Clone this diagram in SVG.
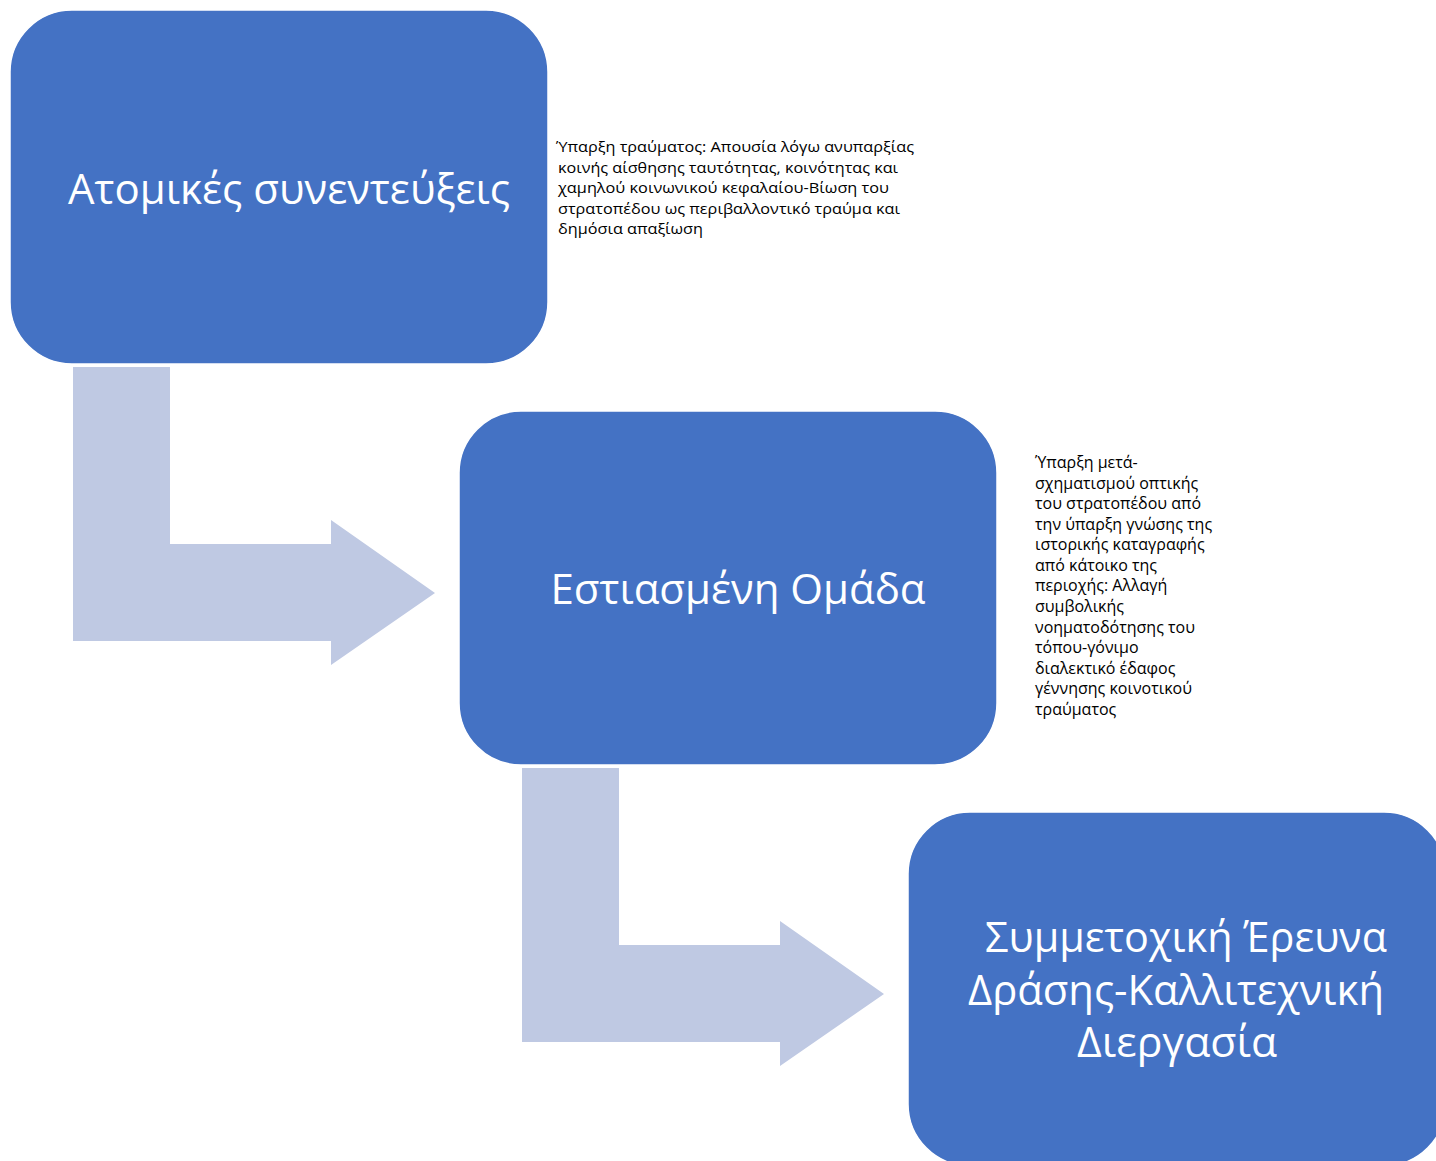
<svg xmlns="http://www.w3.org/2000/svg" width="1436" height="1161" viewBox="0 0 1436 1161">
<style>
.box{fill:#4472C4;stroke:#ffffff;stroke-width:1.5}
.arrow{fill:#BFC9E3}
.title{font-family:"Open Sans","Noto Sans",sans-serif;font-size:42px;fill:#ffffff;text-anchor:middle}
.note{font-family:"Open Sans","Noto Sans",sans-serif;font-size:15px;fill:#000000}
.note2{font-size:16px}
</style>
<rect width="1436" height="1161" fill="#ffffff"/>
<g id="connectors">
<polygon class="arrow" points="73,367 170,367 170,544 331,544 331,520 435,593 331,665 331,641 73,641"/>
<polygon class="arrow" points="522,768 619,768 619,945 780,945 780,921 884,994 780,1066 780,1042 522,1042"/>
</g>
<g id="node1">
<rect class="box" x="10" y="10" width="538" height="354" rx="62" ry="62"/>
<text class="title" x="289" y="204" textLength="442" lengthAdjust="spacingAndGlyphs">Ατομικές συνεντεύξεις</text>
</g>
<g id="note1">
<text class="note" x="556" y="152" textLength="358" lengthAdjust="spacingAndGlyphs">Ύπαρξη τραύματος: Απουσία λόγω ανυπαρξίας</text>
<text class="note" x="558" y="173" textLength="340" lengthAdjust="spacingAndGlyphs">κοινής αίσθησης ταυτότητας, κοινότητας και</text>
<text class="note" x="558" y="193" textLength="331" lengthAdjust="spacingAndGlyphs">χαμηλού κοινωνικού κεφαλαίου-Βίωση του</text>
<text class="note" x="558" y="214" textLength="342" lengthAdjust="spacingAndGlyphs">στρατοπέδου ως περιβαλλοντικό τραύμα και</text>
<text class="note" x="558" y="234" textLength="145" lengthAdjust="spacingAndGlyphs">δημόσια απαξίωση</text>
</g>
<g id="node2">
<rect class="box" x="459" y="411" width="538" height="354" rx="62" ry="62"/>
<text class="title" x="738" y="604" textLength="375" lengthAdjust="spacingAndGlyphs">Εστιασμένη Ομάδα</text>
</g>
<g id="note2">
<text class="note note2" x="1035" y="468">Ύπαρξη μετά-</text>
<text class="note note2" x="1035" y="489">σχηματισμού οπτικής</text>
<text class="note note2" x="1035" y="509">του στρατοπέδου από</text>
<text class="note note2" x="1035" y="530">την ύπαρξη γνώσης της</text>
<text class="note note2" x="1035" y="550">ιστορικής καταγραφής</text>
<text class="note note2" x="1035" y="571">από κάτοικο της</text>
<text class="note note2" x="1035" y="591">περιοχής: Αλλαγή</text>
<text class="note note2" x="1035" y="612">συμβολικής</text>
<text class="note note2" x="1035" y="633">νοηματοδότησης του</text>
<text class="note note2" x="1035" y="653">τόπου-γόνιμο</text>
<text class="note note2" x="1035" y="674">διαλεκτικό έδαφος</text>
<text class="note note2" x="1035" y="694">γέννησης κοινοτικού</text>
<text class="note note2" x="1035" y="715">τραύματος</text>
</g>
<g id="node3">
<rect class="box" x="908" y="812" width="538" height="354" rx="62" ry="62"/>
<text class="title" x="1186" y="952" textLength="402" lengthAdjust="spacingAndGlyphs">Συμμετοχική Έρευνα</text>
<text class="title" x="1176" y="1005" textLength="416" lengthAdjust="spacingAndGlyphs">Δράσης-Καλλιτεχνική</text>
<text class="title" x="1177" y="1057" textLength="200" lengthAdjust="spacingAndGlyphs">Διεργασία</text>
</g>
</svg>
